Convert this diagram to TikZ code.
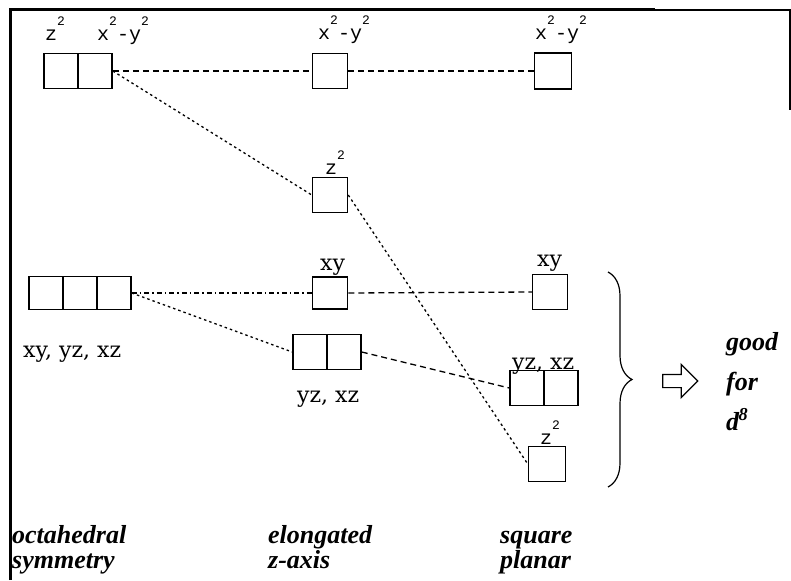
\documentclass[tikz,border=0pt]{standalone}
\usepackage{fontspec}
\setmainfont{DejaVu Serif}
\setmonofont{Liberation Mono}
\newfontfamily\capfont{Liberation Serif}
\usetikzlibrary{decorations.pathreplacing,shapes.arrows}

\newcommand{\sqr}{\raisebox{0.75em}{\fontsize{13}{13}\selectfont 2}}

\tikzset{
    orb/.style={draw, line width=1.5pt, inner sep=0pt,
        minimum width=34pt, minimum height=35pt},
    mono/.style={anchor=base west, inner sep=0pt,
        font=\fontsize{20}{22}\selectfont\ttfamily},
    serif/.style={anchor=base west, inner sep=0pt,
        font=\fontsize{22}{24}\selectfont},
    caption/.style={anchor=base west, inner sep=0pt, align=left,
        font=\fontsize{26}{25}\selectfont\capfont\bfseries\itshape},
    longdash/.style={line width=1.3pt, dash pattern=on 6pt off 4pt},
    shortdash/.style={line width=1.3pt, dash pattern=on 2.5pt off 3pt},
    dashdotted/.style={line width=1.3pt, dash pattern=on 5pt off 3pt on 1.5pt off 3pt}
}

\begin{document}
\begin{tikzpicture}[x=1pt, y=1pt]
\useasboundingbox (0,0) rectangle (791,-580);

% frame
\draw [line width=3pt] (10,-580) -- (10,-10) -- (655,-10);
\draw [line width=1.2pt] (655,-10) -- (790,-10) -- (790,-110);

% Octahedral
\node (egz) [orb,
    xshift=61,
    yshift=-71
] {};
\node (egx) [orb,
    xshift=95,
    yshift=-71
] {};
\node (egzlbl) [mono,
    xshift=45,
    yshift=-41
] {z\sqr};
\node (egxlbl) [mono,
    xshift=97,
    yshift=-41
] {x\sqr-y\sqr};

\node (txy) [orb,
    minimum height=33pt,
    xshift=46,
    yshift=-293
] {};
\node (tyz) [orb,
    minimum height=33pt,
    xshift=80,
    yshift=-293
] {};
\node (txz) [orb,
    minimum height=33pt,
    xshift=114,
    yshift=-293
] {};
\node (tlbl) [serif,
    xshift=23,
    yshift=-357
] {xy, yz, xz};

% Elongated
\node (ex2) [orb,
    minimum width=35pt,
    xshift=330,
    yshift=-71
] {};
\node (ex2lbl) [mono,
    xshift=318,
    yshift=-40
] {x\sqr-y\sqr};

\node (ez2) [orb,
    minimum width=35pt,
    xshift=330,
    yshift=-195
] {};
\node (ez2lbl) [mono,
    xshift=325,
    yshift=-175
] {z\sqr};

\node (exy) [orb,
    minimum width=35pt,
    minimum height=32pt,
    xshift=330,
    yshift=-293
] {};
\node (exylbl) [serif,
    xshift=320,
    yshift=-270
] {xy};

\node (eyz) [orb,
    xshift=310,
    yshift=-352
] {};
\node (exz) [orb,
    xshift=344,
    yshift=-352
] {};
\node (eyzlbl) [serif,
    xshift=297,
    yshift=-402
] {yz, xz};

% Square planar
\node (sx2) [orb,
    minimum width=37pt,
    minimum height=36pt,
    xshift=553,
    yshift=-71
] {};
\node (sx2lbl) [mono,
    xshift=535,
    yshift=-40
] {x\sqr-y\sqr};

\node (sxy) [orb,
    minimum width=35pt,
    xshift=550,
    yshift=-292
] {};
\node (sxylbl) [serif,
    xshift=537,
    yshift=-266
] {xy};

\node (syz) [orb,
    xshift=527,
    yshift=-388
] {};
\node (sxz) [orb,
    xshift=561,
    yshift=-388
] {};
\node (syzlbl) [serif,
    xshift=512,
    yshift=-369
] {yz, xz};

\node (sz2) [orb,
    minimum width=37pt,
    xshift=547,
    yshift=-464
] {};
\node (sz2lbl) [mono,
    xshift=540,
    yshift=-444
] {z\sqr};

% correlation lines
\draw [longdash] (egx.east) -- (ex2.west);
\draw [longdash] (ex2.east) -- (sx2.west);
\draw [shortdash] (egx.east) -- (ez2.west);
\draw [shortdash] (ez2.east) -- (sz2.west);
\draw [dashdotted] (txz.east) -- (exy.west);
\draw [shortdash] (txz.east) -- (eyz.west);
\draw [longdash] (exy.east) -- (sxy.west);
\draw [longdash] (exz.east) -- (syz.west);

% brace and arrow
\draw [line width=1.2pt, decorate, decoration={brace, amplitude=24pt}]
    (608,-272) -- (608,-487);
\node (arr) [draw, single arrow, line width=1.2pt,
    inner sep=6pt,
    single arrow head extend=10pt,
    minimum height=35pt,
    xshift=677,
    yshift=-381
] {};
\node (good) [caption,
    font=\fontsize{26}{40}\selectfont\capfont\bfseries\itshape,
    xshift=726,
    yshift=-430
] {good\\for\\d\textsuperscript{\kern-0.5pt 8}};

% captions
\node (octa) [caption,
    xshift=12,
    yshift=-568
] {octahedral\\symmetry};
\node (elong) [caption,
    xshift=268,
    yshift=-568
] {elongated\\z-axis};
\node (sqpl) [caption,
    xshift=500,
    yshift=-568
] {square\\planar};

\end{tikzpicture}
\end{document}
